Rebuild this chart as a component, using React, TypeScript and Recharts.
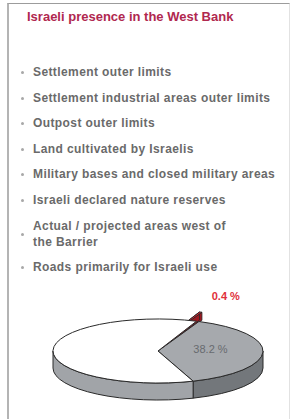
import { PieChart, Pie } from 'recharts';

const title = 'Israeli presence in the West Bank';

const categories = [
  'Settlement outer limits',
  'Settlement industrial areas outer limits',
  'Outpost outer limits',
  'Land cultivated by Israelis',
  'Military bases and closed military areas',
  'Israeli declared nature reserves',
  'Actual / projected areas west of\nthe Barrier',
  'Roads primarily for Israeli use',
];

const sliceNames = ['Roads', 'Israeli presence', 'Remainder'];
const sliceValues = [0.4, 38.2, 61.4];
const sliceLabels = ['0.4 %', '38.2 %', ''];

const topColors = ['#e3222d', '#a6a9ad', '#ffffff'];
const sideColors = ['#9c1820', '#73777b', '#a1a4a8'];

const pieData = sliceNames.map((name, i) => ({ name, value: sliceValues[i] }));

const TILT = 0.305;
const DEPTH = 17;
const rad = (d: number) => (d * Math.PI) / 180;

const pt = (cx: number, cy: number, rx: number, ry: number, a: number) => [
  cx + rx * Math.cos(rad(a)),
  cy - ry * Math.sin(rad(a)),
];

const SliceShape = (props: any) => {
  const { cx, cy, outerRadius, startAngle, endAngle, index } = props;
  const rx = outerRadius;
  const ry = outerRadius * TILT;
  const hi = Math.max(startAngle, endAngle);
  const lo = Math.min(startAngle, endAngle);
  let x0 = cx;
  let y0 = cy;
  if (index === 0) {
    // pulled-out slice
    const mid = (hi + lo) / 2;
    x0 += 8 * Math.cos(rad(mid));
    y0 -= 8 * TILT * Math.sin(rad(mid)) + 7;
  }
  const sides: number[][] = [];
  for (let k = -2; k <= 1; k++) {
    const s = Math.max(lo, 180 + 360 * k);
    const e = Math.min(hi, 360 + 360 * k);
    if (e > s) sides.push([s, e]);
  }
  const [hx, hy] = pt(x0, y0, rx, ry, hi);
  const [lx, ly] = pt(x0, y0, rx, ry, lo);
  const large = hi - lo > 180 ? 1 : 0;
  const top = `M${x0},${y0} L${hx},${hy} A${rx},${ry} 0 ${large} 1 ${lx},${ly} Z`;
  return (
    <g>
      {index === 0 &&
        [lo, hi].map((a) => {
          const [ax, ay] = pt(x0, y0, rx, ry, a);
          return (
            <path
              key={a}
              d={`M${x0},${y0} L${ax},${ay} L${ax},${ay + 8} L${x0},${y0 + 8} Z`}
              fill={sideColors[0]}
              stroke="#2a2a2a"
              strokeWidth={0.8}
            />
          );
        })}
      {sides.map(([s, e]) => {
        const [sx, sy] = pt(x0, y0, rx, ry, s);
        const [ex, ey] = pt(x0, y0, rx, ry, e);
        const d = `M${sx},${sy} A${rx},${ry} 0 0 0 ${ex},${ey} L${ex},${ey + DEPTH} A${rx},${ry} 0 0 1 ${sx},${sy + DEPTH} Z`;
        return <path key={s} d={d} fill={sideColors[index]} stroke="#2a2a2a" strokeWidth={1} />;
      })}
      <path d={top} fill={topColors[index]} stroke="#2a2a2a" strokeWidth={1} />
    </g>
  );
};

const renderLabel = (props: any) => {
  const { cx, cy, outerRadius, midAngle, index } = props;
  const rx = outerRadius;
  const ry = outerRadius * TILT;
  if (index === 1) {
    const [x, y] = pt(cx, cy, rx * 0.5, ry * 0.5, midAngle);
    return (
      <text x={x} y={y - 2} textAnchor="middle" dominantBaseline="central" fill="#686b6f" fontSize={11} fontFamily="Liberation Sans">
        {sliceLabels[index]}
      </text>
    );
  }
  if (index === 0) {
    const [x, y] = pt(cx, cy, rx, ry, midAngle);
    return (
      <text x={x + 14} y={y - 25} textAnchor="start" dominantBaseline="central" fill="#e0303a" fontSize={11} fontWeight="bold" fontFamily="Liberation Sans">
        {sliceLabels[index]}
      </text>
    );
  }
  return null;
};

export default function App() {
  return (
    <div
      style={{
        position: 'absolute',
        left: 0,
        top: 0,
        width: 291,
        height: 419,
        overflow: 'hidden',
        background: '#fff',
        fontFamily: '"Liberation Sans", Arial, sans-serif',
      }}
    >
      <div
        style={{
          position: 'absolute',
          left: 7,
          top: 3,
          width: 280,
          height: 440,
          borderTop: '1px solid #9c9c9c',
          borderLeft: '2px solid #b4b4b4',
          borderRight: '1px solid #e2e2e2',
        }}
      />
      <div
        style={{
          position: 'absolute',
          left: 27,
          top: 9,
          fontSize: 13,
          lineHeight: '16px',
          fontWeight: 'bold',
          color: '#b0284f',
          whiteSpace: 'nowrap',
        }}
      >
        {title}
      </div>
      <div style={{ position: 'absolute', left: 0, top: 64, width: 291 }}>
        {categories.map((c) => (
          <div
            key={c}
            style={{
              position: 'relative',
              paddingLeft: 33,
              marginBottom: 9.6,
              lineHeight: '16px',
              fontSize: 12,
              letterSpacing: 0.4,
              fontWeight: 'bold',
              color: '#6a6a6a',
              whiteSpace: 'pre-line',
            }}
          >
            <span
              style={{
                position: 'absolute',
                left: 21,
                top: '50%',
                width: 3,
                height: 3,
                marginTop: -1,
                borderRadius: 2,
                background: '#a8a8a8',
              }}
            />
            {c}
          </div>
        ))}
      </div>
      <div style={{ position: 'absolute', left: 0, top: 280 }}>
        <PieChart width={291} height={135}>
          <Pie
            data={pieData}
            dataKey="value"
            nameKey="name"
            cx={153}
            cy={66}
            outerRadius={105}
            startAngle={68.5}
            endAngle={-291.5}
            shape={SliceShape}
            inactiveShape={SliceShape}
            activeShape={SliceShape}
            label={renderLabel}
            labelLine={false}
            isAnimationActive={false}
          />
        </PieChart>
      </div>
    </div>
  );
}
